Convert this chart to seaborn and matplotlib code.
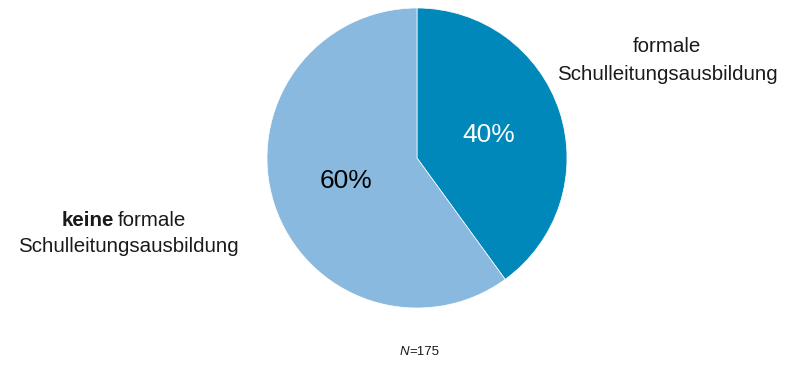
import matplotlib
matplotlib.use('Agg')
import matplotlib.pyplot as plt
import seaborn as sns

# share of school leaders with / without formal leadership training
categories = ['formale Schulleitungsausbildung', 'keine formale Schulleitungsausbildung']
shares = [40, 60]
colors = ['#0088bb', '#89b9de']
n_total = 175

sns.set_theme(style='white')
plt.rcParams['font.family'] = ['Liberation Sans', 'DejaVu Sans']

W, H = 791, 367
fig = plt.figure(figsize=(W / 100, H / 100), dpi=100)
fig.patch.set_facecolor('white')

# pie axes placed in pixel box
ax = fig.add_axes([267 / W, (H - 308) / H, 300 / W, 300 / H])
wedges, texts, autotexts = ax.pie(
    shares, colors=colors, startangle=90, counterclock=False,
    labels=None, autopct='%d%%', pctdistance=0.5,
    wedgeprops=dict(linewidth=0.5, edgecolor='white'),
    textprops=dict(fontsize=19))
autotexts[0].set_color('white')
autotexts[1].set_color('black')
ax.set_xlim(-1, 1)
ax.set_ylim(-1, 1)
ax.set_aspect('equal')
ax.axis('off')


def px(x, y):
    return x / W, 1 - y / H


fs = 14.8
fig.text(*px(667, 47), 'formale', ha='center', va='center', fontsize=fs, color='#1a1a1a')
fig.text(*px(667, 75), 'Schulleitungsausbildung', ha='center', va='center', fontsize=fs, color='#1a1a1a')

fig.text(*px(114, 221), 'keine', ha='right', va='center', fontsize=fs, fontweight='bold', color='#1a1a1a')
fig.text(*px(118, 221), 'formale', ha='left', va='center', fontsize=fs, color='#1a1a1a')
fig.text(*px(128, 247), 'Schulleitungsausbildung', ha='center', va='center', fontsize=fs, color='#1a1a1a')

fig.text(*px(409, 352), 'N', ha='right', va='center', fontsize=9.5, fontstyle='italic', color='#1a1a1a')
fig.text(*px(409, 352), '=' + str(n_total), ha='left', va='center', fontsize=9.5, color='#1a1a1a')

fig.savefig('out.png', dpi=100)
